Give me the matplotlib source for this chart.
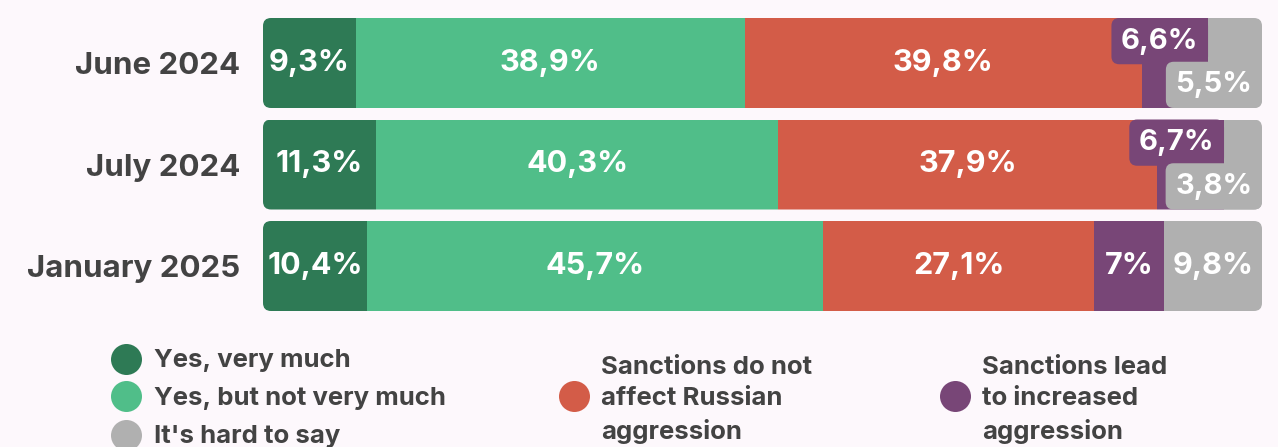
import matplotlib
matplotlib.use('Agg')
import matplotlib.pyplot as plt
from matplotlib.patches import FancyBboxPatch
from matplotlib.lines import Line2D

# ---------------- data ----------------
periods = ['June 2024', 'July 2024', 'January 2025']
yes_very = [9.3, 11.3, 10.4]
yes_not_very = [38.9, 40.3, 45.7]
no_effect = [39.8, 37.9, 27.1]
increased = [6.6, 6.7, 7.0]
hard_to_say = [5.5, 3.8, 9.8]

series_names = ['Yes, very much', 'Yes, but not very much',
                'Sanctions do not\naffect Russian\naggression',
                'Sanctions lead\nto increased\naggression',
                "It's hard to say"]
series_values = [yes_very, yes_not_very, no_effect, increased, hard_to_say]
colors = ['#2e7a55', '#50be89', '#d35c48', '#784677', '#b0b0b0']

BG = '#fdf8fc'
TXT = '#434343'
FONT = ['Inter', 'DejaVu Sans']

W, H = 1278, 447
fig = plt.figure(figsize=(W / 100, H / 100), dpi=100, facecolor=BG)
ax_left, ax_w = 263, 999
ax = fig.add_axes([ax_left / W, 0, ax_w / W, 1])
ax.set_facecolor(BG)
ax.set_xlim(0, 100)
row_px = 101.5
top_px = 63
ax.set_ylim((H - top_px) / row_px, -top_px / row_px)
bar_h = 90 / row_px

px_x = ax_w / 100.0
px_y = row_px
r = 8 / px_x
aspect = 8 / (r * px_y)

lab_fs = 22
small_fs = 21
box_pad = 0.33
for i in range(len(periods)):
    clip = FancyBboxPatch((0, i - bar_h / 2), 100, bar_h,
                          boxstyle=f'round,pad=0,rounding_size={r}',
                          mutation_aspect=aspect, transform=ax.transData,
                          facecolor='none', edgecolor='none')
    ax.add_patch(clip)
    left = 0.0
    for k, vals in enumerate(series_values):
        v = vals[i]
        bars = ax.barh(i, v, left=left, height=bar_h, color=colors[k],
                       edgecolor='none')
        for b in bars:
            b.set_clip_path(clip)
        txt = f'{v:g}'.replace('.', ',') + '%'
        if v < 7:
            pad_px = box_pad * small_fs * 100 / 72
            end = min(left + v, 100)
            if k == 3:
                xy, off, va, z = (end, i - bar_h / 2), (-pad_px, -pad_px), 'top', 5
            else:
                xy, off, va, z = (end, i + bar_h / 2), (-pad_px, pad_px), 'bottom', 6
            ax.annotate(txt, xy=xy, xytext=off, textcoords='offset pixels',
                        ha='right', va=va, color='white', fontsize=small_fs,
                        fontweight='bold', family=FONT, zorder=z,
                        annotation_clip=False,
                        bbox=dict(boxstyle=f'round,pad={box_pad},rounding_size=0.27',
                                  fc=colors[k], ec='none'))
        else:
            ax.text(left + v / 2, i, txt, ha='center', va='center',
                    color='white', fontsize=lab_fs, fontweight='bold',
                    family=FONT, zorder=5)
        left += v

ax.set_yticks(range(len(periods)))
ax.set_yticklabels(periods, fontsize=22.5, color=TXT, fontweight='bold',
                   family=FONT)
ax.tick_params(axis='y', length=0, pad=23 * 72 / 100)
ax.tick_params(axis='x', bottom=False, labelbottom=False)
for s in ax.spines.values():
    s.set_visible(False)

# ---------------- legend ----------------
def fx(px):
    return px / W

def fy(py):
    return 1 - py / H

leg_fs = 18.5
marker_size = 31 * 72 / 100
legend_items = [
    (0, 126, 359, 154, 361),
    (1, 126, 396, 154, 399),
    (4, 126, 435, 154, 436),
    (2, 574, 396, 601, 400),
    (3, 955, 396, 982, 400),
]
for k, cx, cy, tx, ty in legend_items:
    fig.add_artist(Line2D([fx(cx)], [fy(cy)], marker='o', markersize=marker_size,
                          color=colors[k], markeredgewidth=0,
                          transform=fig.transFigure))
    fig.text(fx(tx), fy(ty), series_names[k], ha='left', va='center',
             fontsize=leg_fs, color=TXT, fontweight='bold', family=FONT,
             linespacing=1.45)

fig.savefig('out.png', dpi=100, facecolor=BG)
